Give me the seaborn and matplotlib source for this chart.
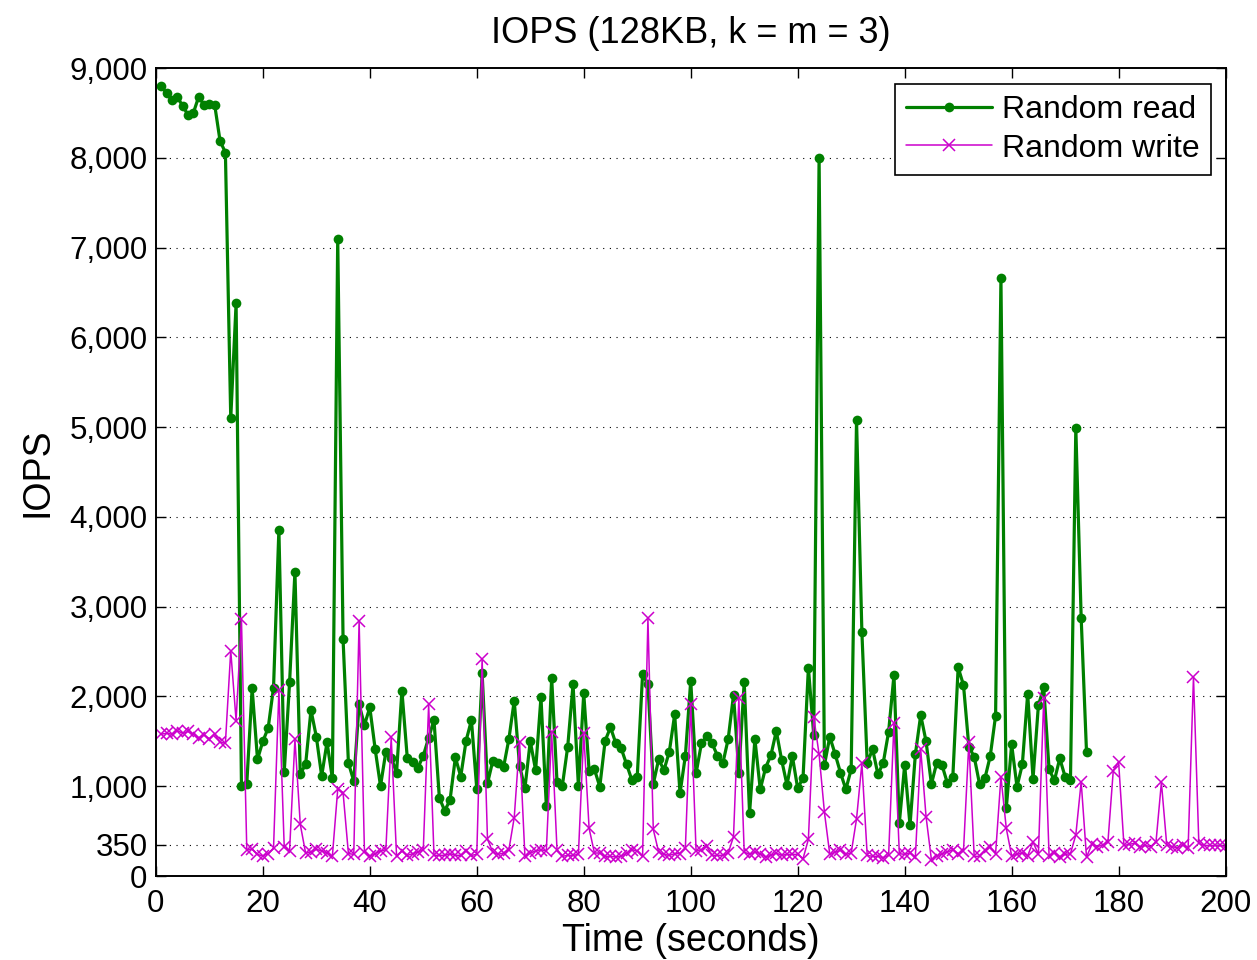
import numpy as np
import pandas as pd
import matplotlib
matplotlib.use("Agg")
import matplotlib.pyplot as plt
import seaborn as sns
from matplotlib.ticker import FuncFormatter

read_iops = [
    8800, 8720, 8650, 8680, 8580, 8480, 8500, 8680, 8590, 8600,
    8590, 8190, 8060, 5100, 6380, 1000, 1030, 2090, 1300, 1500,
    1650, 2100, 3860, 1160, 2157, 3390, 1135, 1244, 1849, 1552,
    1114, 1490, 1088, 7100, 2636, 1260, 1058, 1912, 1682, 1878,
    1414, 1002, 1385, 1318, 1151, 2064, 1318, 1273, 1207, 1340,
    1540, 1737, 872, 727, 846, 1322, 1107, 1507, 1737, 969,
    2257, 1032, 1284, 1262, 1210, 1525, 1952, 1228, 976, 1503,
    1180, 1990, 783, 2208, 1050, 1006, 1440, 2135, 1002, 2034,
    1173, 1188, 995, 1507, 1656, 1478, 1422, 1247, 1069, 1106,
    2249, 2135, 1024, 1300, 1180, 1385, 1800, 920, 1340, 2175,
    1143, 1477, 1559, 1477, 1340, 1255, 1525, 2015, 1151, 2164,
    700, 1525, 965, 1206, 1347, 1615, 1292, 1013, 1336, 976,
    1095, 2320, 1570, 8000, 1236, 1551, 1358, 1151, 965, 1188,
    5080, 2720, 1255, 1415, 1132, 1262, 1607, 2238, 590, 1236,
    565, 1355, 1793, 1500, 1024, 1262, 1232, 1032, 1099, 2324,
    2127, 1440, 1329, 1024, 1088, 1336, 1785, 6660, 754, 1467,
    995, 1243, 2030, 1084, 1900, 2101, 1188, 1065, 1310, 1106,
    1069, 4990, 2877, 1381,
]

write_iops = [
    1580, 1590, 1580, 1620, 1590, 1610, 1580, 1540, 1570, 1530,
    1580, 1490, 1480, 2510, 1730, 2865, 290, 300, 240, 223,
    250, 310, 2068, 320, 280, 1522, 575, 255, 270, 297,
    280, 255, 222, 965, 930, 250, 241, 2843, 267, 219,
    249, 279, 293, 1544, 226, 279, 230, 249, 267, 293,
    1912, 230, 230, 230, 249, 230, 230, 279, 230, 241,
    2416, 409, 267, 241, 256, 293, 650, 1496, 219, 256,
    279, 293, 279, 1600, 293, 219, 230, 230, 241, 1589,
    531, 256, 256, 219, 219, 212, 219, 256, 293, 279,
    219, 2869, 520, 267, 241, 230, 249, 249, 312, 1915,
    279, 293, 330, 230, 230, 230, 256, 438, 1979, 267,
    241, 267, 249, 212, 230, 256, 230, 241, 241, 241,
    193, 409, 1774, 1355, 709, 241, 267, 286, 241, 256,
    635, 1255, 230, 219, 219, 204, 230, 1707, 249, 241,
    256, 212, 1411, 661, 182, 219, 249, 267, 293, 249,
    279, 1489, 219, 219, 286, 323, 249, 1106, 531, 226,
    240, 260, 225, 379, 240, 1978, 225, 260, 215, 240,
    250, 457, 1050, 210, 353, 327, 345, 375, 1173, 1273,
    340, 353, 365, 327, 340, 327, 384, 1043, 345, 327,
    315, 345, 315, 2220, 365, 340, 340, 340, 340, 330,
]

read_time = list(range(1, len(read_iops) + 1))
write_time = list(range(1, len(write_iops) + 1))

y_ticks = [0, 350, 1000, 2000, 3000, 4000, 5000, 6000, 7000, 8000, 9000]
x_ticks = [0, 20, 40, 60, 80, 100, 120, 140, 160, 180, 200]

GREEN = "#008000"
MAGENTA = "#CC00CC"

sns.set_style("ticks")
plt.rcParams['font.family'] = ['Liberation Sans', 'DejaVu Sans']

fig = plt.figure(figsize=(12.57, 9.6), dpi=100)
ax = fig.add_axes([0.124, 0.0875, 0.851, 0.8415])

df_r = pd.DataFrame({"t": read_time, "v": read_iops})
df_w = pd.DataFrame({"t": write_time, "v": write_iops})

sns.lineplot(data=df_r, x="t", y="v", ax=ax, color=GREEN, linewidth=2.3,
             marker="o", markersize=7, markeredgewidth=0,
             markerfacecolor=GREEN, label="Random read")
sns.lineplot(data=df_w, x="t", y="v", ax=ax, color=MAGENTA, linewidth=1.1,
             marker="x", markersize=9, markeredgewidth=1.1,
             markeredgecolor=MAGENTA, label="Random write")

ax.set_xlim(0, 200)
ax.set_ylim(0, 9000)
ax.set_xticks(x_ticks)
ax.set_yticks(y_ticks)
ax.yaxis.set_major_formatter(FuncFormatter(lambda v, p: f"{int(v):,}"))
ax.tick_params(direction="in", length=7, width=1, labelsize=22.5,
               top=True, right=True, pad=6, colors="black")
ax.tick_params(axis="x", pad=9)
for s in ax.spines.values():
    s.set_linewidth(1.4)
    s.set_color("black")

ax.grid(False)
for yt in y_ticks[1:-1]:
    ax.axhline(yt, color="black", linestyle=(0, (1, 5)), linewidth=0.8, zorder=0)

ax.set_xlabel("Time (seconds)", fontsize=27, labelpad=3, color="black")
ax.set_ylabel("IOPS", fontsize=27, labelpad=10, color="black")
ax.set_title("IOPS (128KB, k = m = 3)", fontsize=26, pad=18, color="black")

leg = ax.legend(loc="upper right", fontsize=23, frameon=True, fancybox=False,
                handlelength=2.7, borderpad=0.35, labelspacing=0.28,
                handletextpad=0.3, borderaxespad=0,
                bbox_to_anchor=(0.986, 0.981))
leg.get_frame().set_edgecolor("black")
leg.get_frame().set_linewidth(1.2)
leg.get_frame().set_alpha(1)
for t in leg.get_texts():
    t.set_color("black")

fig.savefig("out.png", dpi=100)
